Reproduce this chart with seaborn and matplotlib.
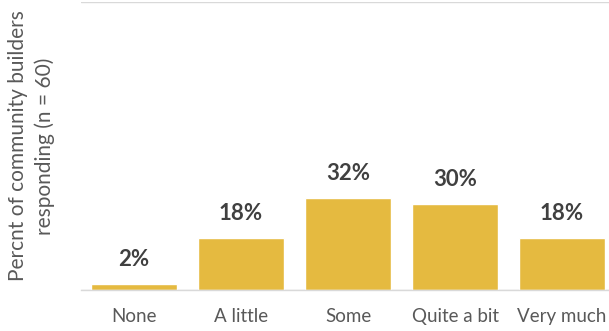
import matplotlib
matplotlib.use("Agg")
import matplotlib.pyplot as plt
import seaborn as sns
import pandas as pd

categories = ["None", "A little", "Some", "Quite a bit", "Very much"]
percents = [2, 18, 32, 30, 18]
value_labels = ["2%", "18%", "32%", "30%", "18%"]

sns.set_theme(style="white")
plt.rcParams["font.family"] = ["Lato", "DejaVu Sans"]

df = pd.DataFrame({"response": categories, "pct": percents})

W, H = 609, 331
fig = plt.figure(figsize=(W / 100, H / 100), dpi=100)
ax = fig.add_axes([80.5 / W, 41 / H, 535 / W, 288 / H])

sns.barplot(data=df, x="response", y="pct", color="#E5BA40", saturation=1,
            width=0.8, ax=ax)

ax.set_ylim(0, 100)
ax.set_xlim(-0.5, len(categories) - 0.5)
ax.set_yticks([0, 100])
ax.set_yticklabels([])
ax.yaxis.grid(True, color="#D9D9D9", linewidth=1)
ax.set_axisbelow(True)
for side in ["left", "right", "top"]:
    ax.spines[side].set_visible(False)
ax.spines["bottom"].set_color("#D9D9D9")
ax.spines["bottom"].set_linewidth(1)
ax.tick_params(axis="both", length=0)
ax.tick_params(axis="x", pad=13, labelsize=13.5, labelcolor="#595959")

ax.set_xlabel("")
ax.set_ylabel("Percnt of community builders\nresponding (n = 60)",
              fontsize=15, color="#595959", linespacing=1.35, labelpad=15)

for i, (p, lab) in enumerate(zip(percents, value_labels)):
    ax.annotate(lab, (i, p), xytext=(0, 17.5), textcoords="offset points",
                ha="center", va="center", fontsize=16, fontweight="bold",
                color="#404040")

fig.savefig("out.png", dpi=100)
